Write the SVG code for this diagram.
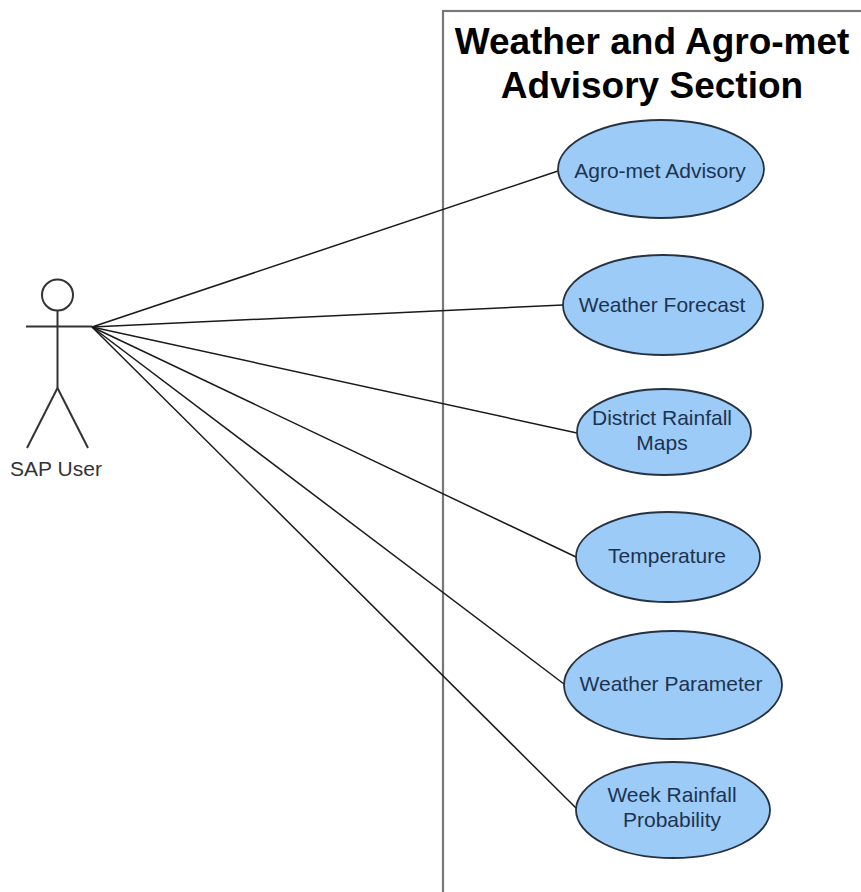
<svg xmlns="http://www.w3.org/2000/svg" width="861" height="892" viewBox="0 0 861 892">
<style>
.uc{fill:#9ccbf7;stroke:#26323f;stroke-width:1.8}
.ut{font-family:"Liberation Sans",Arial,sans-serif;font-size:21px;fill:#1d3350;text-anchor:middle}
.title{font-family:"Liberation Sans",Arial,sans-serif;font-size:37px;font-weight:bold;fill:#000;text-anchor:middle}
.conn line{stroke:#1a1a1a;stroke-width:1.5}
.actor{fill:none;stroke:#333;stroke-width:2}
</style>
<rect width="861" height="892" fill="#fff"/>
<g id="system">
<rect x="443" y="11" width="440" height="900" fill="none" stroke="#777" stroke-width="2.2"/>
<text class="title" x="652" y="54">Weather and Agro-met</text>
<text class="title" x="652" y="98">Advisory Section</text>
</g>
<g id="connectors" class="conn">
<line x1="92" y1="327" x2="558" y2="171"/>
<line x1="92" y1="327" x2="563" y2="305"/>
<line x1="92" y1="327" x2="577" y2="433"/>
<line x1="92" y1="327" x2="576" y2="557"/>
<line x1="92" y1="327" x2="564" y2="684"/>
<line x1="92" y1="327" x2="577" y2="809"/>
</g>
<g id="actor-sap-user">
<circle class="actor" cx="57.5" cy="295" r="15.5"/>
<line class="actor" x1="57.5" y1="310.5" x2="57.5" y2="388"/>
<line class="actor" x1="26" y1="326.5" x2="92" y2="326.5"/>
<line class="actor" x1="57.5" y1="388" x2="27" y2="448"/>
<line class="actor" x1="57.5" y1="388" x2="88" y2="448"/>
<text x="56" y="476" font-family="'Liberation Sans',Arial,sans-serif" font-size="21" fill="#333" text-anchor="middle">SAP User</text>
</g>
<g id="uc-agromet-advisory">
<ellipse class="uc" cx="661" cy="169" rx="103" ry="49"/>
<text class="ut" x="660" y="178">Agro-met Advisory</text>
</g>
<g id="uc-weather-forecast">
<ellipse class="uc" cx="663" cy="305" rx="100" ry="50"/>
<text class="ut" x="662" y="312">Weather Forecast</text>
</g>
<g id="uc-district-rainfall-maps">
<ellipse class="uc" cx="664" cy="432" rx="87" ry="43"/>
<text class="ut" x="662" y="425">District Rainfall</text>
<text class="ut" x="662" y="450">Maps</text>
</g>
<g id="uc-temperature">
<ellipse class="uc" cx="668" cy="557" rx="92" ry="45"/>
<text class="ut" x="667" y="563">Temperature</text>
</g>
<g id="uc-weather-parameter">
<ellipse class="uc" cx="673" cy="685" rx="109" ry="54"/>
<text class="ut" x="671" y="691">Weather Parameter</text>
</g>
<g id="uc-week-rainfall-probability">
<ellipse class="uc" cx="673" cy="810" rx="97" ry="48"/>
<text class="ut" x="672" y="802">Week Rainfall</text>
<text class="ut" x="672" y="827">Probability</text>
</g>
</svg>
